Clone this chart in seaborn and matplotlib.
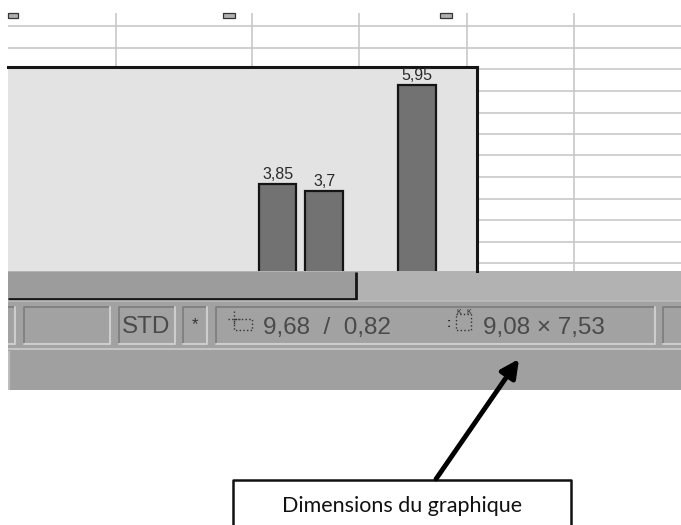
#! /usr/bin/python3
import matplotlib.pyplot as plt
import pandas as pd
import seaborn as sns
from matplotlib.patches import Rectangle

# Chart values, slot 2 is empty
bar_slots = [0, 1, 3]
bar_values = [3.85, 3.7, 5.95]
bar_labels = ["3,85", "3,7", "5,95"]

# Spreadsheet grid behind the chart (pixels of the screenshot)
grid_rows = [26, 48, 69, 91, 113, 134, 155, 177, 199, 220, 242, 263]
grid_cols = [116, 252, 359, 467, 574]
handles = [8, 223, 440]

# Status bar cells: left, right
status_cells = [(4, 15), (24, 110), (119, 175), (183, 207), (216, 655), (663, 690)]

position_text = "9,68  /  0,82"
size_text = "9,08 × 7,53"
caption = "Dimensions du graphique"


def sunken(ax, x0, x1, y0, y1):
    ax.plot([x0, x0, x1], [y1, y0, y0], color="#7c7c7c", lw=1.2)
    ax.plot([x0, x1, x1], [y1, y1, y0], color="#cdcdcd", lw=1.5)


if __name__ == "__main__":
    sns.set_theme(style="white")
    plt.rcParams["font.family"] = "Liberation Sans"

    fig = plt.figure(figsize=(6.81, 5.25), dpi=100)

    # Background layer in pixel coordinates
    bg = fig.add_axes([0, 0, 1, 1], zorder=1)
    bg.set_xlim(0, 681)
    bg.set_ylim(525, 0)
    bg.axis("off")

    for y in grid_rows:
        bg.plot([8, 681], [y, y], color="#c8c8c8", lw=1.2, solid_capstyle="butt")
    for x in grid_cols:
        bg.plot([x, x], [13, 271], color="#c8c8c8", lw=1.2, solid_capstyle="butt")
    for x in handles:
        width = 10 if x == 8 else 12
        bg.add_patch(Rectangle((x, 13), width, 5, fc="#b0b0b0", ec="#333333", lw=0.9))

    # Grey window bands
    bg.add_patch(Rectangle((8, 271), 673, 34, fc="#b2b2b2", ec="none"))
    bg.add_patch(Rectangle((8, 272), 348, 26, fc="#9c9c9c", ec="none"))
    bg.plot([8, 356, 356], [298.5, 298.5, 272], color="#151515", lw=2, solid_capstyle="butt")
    bg.add_patch(Rectangle((8, 301), 673, 47, fc="#a2a2a2", ec="none"))
    bg.add_patch(Rectangle((8, 348), 673, 42, fc="#a0a0a0", ec="none"))
    bg.plot([8, 681], [349, 349], color="#c4c4c4", lw=1.5, solid_capstyle="butt")
    bg.plot([8, 681], [301, 301], color="#bcbcbc", lw=1.2, solid_capstyle="butt")
    bg.plot([9, 9], [351, 390], color="#c4c4c4", lw=1.2, solid_capstyle="butt")
    for left, right in status_cells:
        sunken(bg, left, right, 307, 344)
    # Screenshot stops at x=8
    bg.add_patch(Rectangle((0, 300), 8, 60, fc="white", ec="none", zorder=5))

    # Status bar text
    status = dict(color="#4a4a4a", va="center", fontsize=17.5)
    bg.text(122, 327, "STD", ha="left", **status)
    bg.text(195, 325, "*", ha="center", color="#333333", va="center", fontsize=12)
    bg.text(263, 328, position_text, ha="left", **status)
    bg.text(483, 328, size_text, ha="left", **status)

    # Status bar icons
    bg.add_patch(Rectangle((234, 319), 18, 11, fc="none", ec="#333333", lw=1, ls=":"))
    bg.plot([234, 234], [311, 326], color="#333333", lw=1, ls=":")
    bg.plot([228, 240], [319, 319], color="#333333", lw=1, ls=":")
    bg.add_patch(Rectangle((456, 314), 15, 16, fc="none", ec="#333333", lw=1, ls=":"))
    bg.text(459, 313, "K", ha="center", va="center", fontsize=5, color="#222222")
    bg.text(469, 313, "K", ha="center", va="center", fontsize=5, color="#222222")
    bg.text(449, 324, ":", ha="center", va="center", fontsize=9, color="#222222", fontweight="bold")

    # Chart panel
    ax = fig.add_axes([8 / 681, 1 - 271 / 525, 469 / 681, 204 / 525], zorder=2)
    ax.set_facecolor("#e3e3e3")
    chart_data = pd.DataFrame({"slot": bar_slots, "value": bar_values})
    sns.barplot(
        x="slot",
        y="value",
        data=chart_data,
        native_scale=True,
        color="#727272",
        saturation=1,
        edgecolor="#151515",
        linewidth=1.6,
        ax=ax,
    )
    ax.set_xlim(-5.8, 4.29)
    ax.set_ylim(2.0, 6.33)
    ax.set_xticks([])
    ax.set_yticks([])
    ax.set_xlabel("")
    ax.set_ylabel("")
    for side in ["left", "bottom"]:
        ax.spines[side].set_visible(False)
    for side in ["top", "right"]:
        ax.spines[side].set_color("#151515")
        ax.spines[side].set_linewidth(2.2)
    labels = ax.bar_label(ax.containers[0], labels=bar_labels, padding=1.5, fontsize=11.5, color="#2a2a2a")
    for label in labels:
        label.set_clip_on(False)

    # Arrow and caption box, on top of everything
    top = fig.add_axes([0, 0, 1, 1], zorder=3)
    top.set_xlim(0, 681)
    top.set_ylim(525, 0)
    top.axis("off")
    top.patch.set_alpha(0)
    top.annotate(
        "",
        xy=(519, 359),
        xytext=(436, 479),
        arrowprops=dict(
            arrowstyle="-|>,head_length=0.9,head_width=0.45",
            color="black",
            lw=3.5,
            shrinkA=0,
            shrinkB=0,
        ),
    )
    top.plot([233, 233, 571, 571], [525, 480, 480, 525], color="#111111", lw=1.8)
    top.text(402, 506, caption, ha="center", va="center", fontsize=15.5, color="#111111", family="Lato")

    fig.savefig("out.png", dpi=100)
